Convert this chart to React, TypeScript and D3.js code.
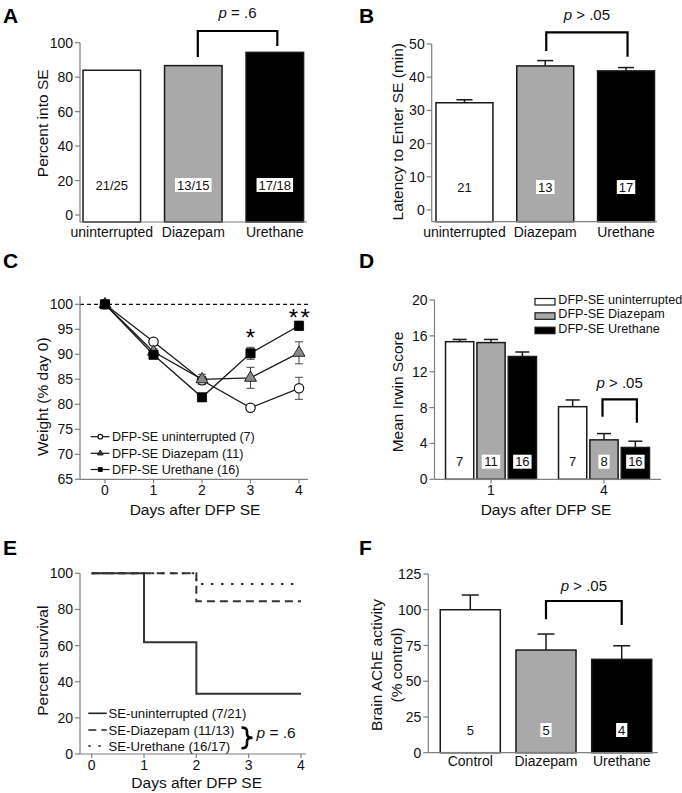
import React from 'react';
import * as d3 from 'd3';

const FONT = '"Liberation Sans", Arial, Helvetica, sans-serif';
const AXIS = '#7f7f7f';
const GRAY = '#a9a9a9';
const OUTLINE = '#1a1a1a';
const FILLS = ['#ffffff', GRAY, '#000000'];

// ---------- Panel A ----------
const treatmentGroups = ['uninterrupted', 'Diazepam', 'Urethane'];
const percentIntoSE = [84, 86.7, 94.4];
const percentIntoSECounts = ['21/25', '13/15', '17/18'];
const percentTicks = [0, 20, 40, 60, 80, 100];

// ---------- Panel B ----------
const latencyMeans = [32.3, 43.4, 41.9];
const latencySEM = [0.9, 1.6, 1.0];
const latencyCounts = ['21', '13', '17'];
const latencyTicks = [0, 10, 20, 30, 40, 50];

// ---------- Panel C ----------
const weightDays = [0, 1, 2, 3, 4];
const weightUninterrupted = [100, 92.5, 84.8, 79.3, 83.2];
const weightUninterruptedSEM = [0, 0.5, 0.7, 0.4, 2.2];
const weightDiazepam = [100, 90.5, 85.0, 85.3, 90.3];
const weightDiazepamSEM = [0, 0.6, 1.0, 2.1, 2.2];
const weightUrethane = [100, 89.9, 81.4, 90.2, 95.7];
const weightUrethaneSEM = [0, 0.6, 0.7, 1.2, 0.9];
const weightLegend = ['DFP-SE uninterrupted (7)', 'DFP-SE Diazepam (11)', 'DFP-SE Urethane (16)'];
const weightTicks = [65, 70, 75, 80, 85, 90, 95, 100];

// ---------- Panel D ----------
const irwinDays = ['1', '4'];
const irwinSeries = ['DFP-SE uninterrupted', 'DFP-SE Diazepam', 'DFP-SE Urethane'];
const irwinUninterrupted = [15.35, 8.1];
const irwinUninterruptedSEM = [0.25, 0.75];
const irwinDiazepam = [15.25, 4.4];
const irwinDiazepamSEM = [0.35, 0.7];
const irwinUrethane = [13.7, 3.55];
const irwinUrethaneSEM = [0.5, 0.7];
const irwinCountsUninterrupted = ['7', '7'];
const irwinCountsDiazepam = ['11', '8'];
const irwinCountsUrethane = ['16', '16'];
const irwinTicks = [0, 4, 8, 12, 16, 20];

// ---------- Panel E ----------
const survivalDays = [0, 1, 2, 3, 4];
const survivalUninterrupted = [100, 61.9, 33.3, 33.3, 33.3];
const survivalDiazepam = [100, 100, 84.6, 84.6, 84.6];
const survivalUrethane = [100, 100, 94.1, 94.1, 94.1];
const survivalLegend = ['SE-uninterrupted (7/21)', 'SE-Diazepam (11/13)', 'SE-Urethane (16/17)'];
const survivalTicks = [0, 20, 40, 60, 80, 100];

// ---------- Panel F ----------
const acheGroups = ['Control', 'Diazepam', 'Urethane'];
const acheMeans = [100, 71.8, 65.3];
const acheSEM = [10.3, 11.2, 9.5];
const acheCounts = ['5', '5', '4'];
const acheTicks = [0, 25, 50, 75, 100, 125];

function textWidth(s: string, size: number) {
  const w: Record<string, number> = { '/': 0.278, ' ': 0.278 };
  let t = 0;
  for (const c of s) t += w[c] ?? 0.556;
  return t * size;
}

function CountLabel({ x, y, text, boxed }: { x: number; y: number; text: string; boxed: boolean }) {
  const fs = 13;
  const w = textWidth(text, fs) + 4;
  const h = 14;
  return (
    <g>
      {boxed && <rect x={x - w / 2} y={y - h / 2} width={w} height={h} fill="#fff" />}
      <text x={x} y={y} dy="0.36em" textAnchor="middle" fontSize={fs} fill="#111">
        {text}
      </text>
    </g>
  );
}

function YAxis({ scale, ticks, x, y1, y2 }: any) {
  return (
    <g>
      <line x1={x} x2={x} y1={y1} y2={y2} stroke={AXIS} strokeWidth={1.2} />
      {ticks.map((t: number) => (
        <g key={t}>
          <line x1={x - 5} x2={x} y1={scale(t)} y2={scale(t)} stroke={AXIS} strokeWidth={1.2} />
          <text x={x - 7} y={scale(t)} dy="0.36em" textAnchor="end" fontSize={14} fill="#111">
            {t}
          </text>
        </g>
      ))}
    </g>
  );
}

function YLabel({ x, y, text, size = 15.5 }: any) {
  return (
    <text
      transform={`translate(${x},${y}) rotate(-90)`}
      textAnchor="middle"
      dominantBaseline="central"
      fontSize={size}
      fill="#111"
    >
      {text}
    </text>
  );
}

function Bracket({ x1, x2, top, b1, b2, labelY, sign }: any) {
  return (
    <g>
      <path d={`M${x1},${b1}V${top}H${x2}V${b2}`} fill="none" stroke="#000" strokeWidth={2.2} />
      <text x={(x1 + x2) / 2} y={labelY} textAnchor="middle" fontSize={15} fill="#111">
        <tspan fontStyle="italic">p</tspan>
        {` ${sign}`}
      </text>
    </g>
  );
}

function PanelLabel({ x, y, t }: any) {
  return (
    <text x={x} y={y} fontSize={21} fontWeight="bold" fill="#000">
      {t}
    </text>
  );
}

function BarPanel(p: any) {
  const x = d3
    .scaleBand()
    .domain(p.categories)
    .range(p.xRange)
    .paddingInner(p.pi)
    .paddingOuter(p.po);
  const y = d3.scaleLinear().domain(p.yDomain).range(p.yRange);
  const bw = x.bandwidth();
  const cx = (c: string) => (x(c) as number) + bw / 2;
  return (
    <g>
      {p.categories.map((c: string, i: number) => {
        const v = p.values[i];
        return (
          <g key={c}>
            {p.errors && (
              <g stroke={OUTLINE} strokeWidth={1.5}>
                <line x1={cx(c)} x2={cx(c)} y1={y(v)} y2={y(v + p.errors[i])} />
                <line x1={cx(c) - p.cap / 2} x2={cx(c) + p.cap / 2} y1={y(v + p.errors[i])} y2={y(v + p.errors[i])} />
              </g>
            )}
            <rect
              x={x(c)}
              y={y(v)}
              width={bw}
              height={p.axisY - y(v)}
              fill={FILLS[i]}
              stroke={OUTLINE}
              strokeWidth={1.5}
            />
            <CountLabel x={cx(c)} y={p.countY} text={p.counts[i]} boxed={i > 0} />
            <text x={cx(c)} y={p.tickBaseline} textAnchor="middle" fontSize={14} fill="#111">
              {c}
            </text>
          </g>
        );
      })}
      <YAxis scale={y} ticks={p.ticks} x={p.xRange[0]} y1={y(p.yDomain[1])} y2={p.axisY} />
      <line x1={p.xRange[0]} x2={p.axisEnd} y1={p.axisY} y2={p.axisY} stroke={AXIS} strokeWidth={1.2} />
      <Bracket
        x1={cx(p.categories[1]) + p.bo[0]}
        x2={cx(p.categories[2]) + p.bo[1]}
        top={p.bTop}
        b1={p.b1}
        b2={p.b2}
        sign={p.sign}
        labelY={p.pY}
      />
    </g>
  );
}

function PanelC() {
  const x = d3.scaleLinear().domain([0, 4]).range([105, 299]);
  const y = d3.scaleLinear().domain([65, 100]).range([479.3, 304.3]);
  const series = [
    { v: weightUninterrupted, e: weightUninterruptedSEM, type: 'circle' },
    { v: weightDiazepam, e: weightDiazepamSEM, type: 'triangle' },
    { v: weightUrethane, e: weightUrethaneSEM, type: 'square' },
  ];
  const line = d3
    .line<number>()
    .x((_, i) => x(weightDays[i]))
    .y((d) => y(d));
  const marker = (type: string, mx: number, my: number, small = false, key?: any) => {
    if (type === 'circle')
      return <circle key={key} cx={mx} cy={my} r={small ? 2.3 : 4.7} fill="#fff" stroke="#111" strokeWidth={1.2} />;
    if (type === 'triangle')
      return (
        <path
          key={key}
          d={d3.symbol(d3.symbolTriangle, small ? 14 : 62)() as string}
          transform={`translate(${mx},${my})`}
          fill={small ? '#333' : '#8a8a8a'}
          stroke="#222"
          strokeWidth={1}
        />
      );
    return (
      <path
        key={key}
        d={d3.symbol(d3.symbolSquare, small ? 16 : 84)() as string}
        transform={`translate(${mx},${my})`}
        fill="#000"
        stroke="#000"
        strokeWidth={0.8}
      />
    );
  };
  const legendY = [436.7, 453.3, 469.5];
  return (
    <g>
      <line x1={80} x2={308} y1={y(100)} y2={y(100)} stroke="#111" strokeWidth={1.2} strokeDasharray="4,3" />
      {series.map((s, si) => (
        <path key={si} d={line(s.v) as string} fill="none" stroke="#1a1a1a" strokeWidth={1.3} />
      ))}
      {series.map((s, si) =>
        s.v.map((v, i) =>
          s.e[i] > 0 ? (
            <g key={`${si}-${i}`} stroke="#444" strokeWidth={1}>
              <line x1={x(weightDays[i])} x2={x(weightDays[i])} y1={y(v - s.e[i])} y2={y(v + s.e[i])} />
              <line x1={x(weightDays[i]) - 4} x2={x(weightDays[i]) + 4} y1={y(v + s.e[i])} y2={y(v + s.e[i])} />
              <line x1={x(weightDays[i]) - 4} x2={x(weightDays[i]) + 4} y1={y(v - s.e[i])} y2={y(v - s.e[i])} />
            </g>
          ) : null
        )
      )}
      {series.map((s, si) => s.v.map((v, i) => marker(s.type, x(weightDays[i]), y(v), false, `${si}-${i}`)))}
      <YAxis scale={y} ticks={weightTicks} x={80} y1={296} y2={479.3} />
      <line x1={80} x2={308} y1={479.3} y2={479.3} stroke={AXIS} strokeWidth={1.2} />
      {weightDays.map((d) => (
        <g key={d}>
          <line x1={x(d)} x2={x(d)} y1={479.3} y2={483.5} stroke={AXIS} strokeWidth={1.2} />
          <text x={x(d)} y={495} textAnchor="middle" fontSize={14} fill="#111">
            {d}
          </text>
        </g>
      ))}
      <text x={195} y={515} textAnchor="middle" fontSize={15.5} fill="#111">
        Days after DFP SE
      </text>
      <YLabel x={42.5} y={396.7} text="Weight (% day 0)" />
      <text x={x(3)} y={346} textAnchor="middle" fontSize={24} fill="#000">
        *
      </text>
      <text x={x(4) + 1.5} y={326} textAnchor="middle" fontSize={24} letterSpacing={2.5} fill="#000">
        **
      </text>
      {weightLegend.map((t, i) => (
        <g key={t}>
          <line x1={90.7} x2={109.5} y1={legendY[i]} y2={legendY[i]} stroke="#111" strokeWidth={1.2} />
          {marker(series[i].type, 100.3, legendY[i], true)}
          <text x={112} y={legendY[i]} dy="0.36em" fontSize={12.6} fill="#111">
            {t}
          </text>
        </g>
      ))}
    </g>
  );
}

function PanelD() {
  const xg = d3.scaleBand().domain(irwinDays).range([434, 661]).paddingInner(0.195).paddingOuter(0.102);
  const xs = d3.scaleBand().domain(irwinSeries).range([0, xg.bandwidth()]).paddingInner(0.1);
  const y = d3.scaleLinear().domain([0, 20]).range([479.3, 300]);
  const vals = [irwinUninterrupted, irwinDiazepam, irwinUrethane];
  const errs = [irwinUninterruptedSEM, irwinDiazepamSEM, irwinUrethaneSEM];
  const counts = [irwinCountsUninterrupted, irwinCountsDiazepam, irwinCountsUrethane];
  const bw = xs.bandwidth();
  const bx = (di: number, si: number) => (xg(irwinDays[di]) as number) + (xs(irwinSeries[si]) as number);
  const legendBase = [304, 318.3, 332.7];
  return (
    <g>
      {irwinDays.map((d, di) =>
        irwinSeries.map((s, si) => {
          const v = vals[si][di];
          const e = errs[si][di];
          const c = bx(di, si) + bw / 2;
          return (
            <g key={`${d}-${s}`}>
              <g stroke={OUTLINE} strokeWidth={1.5}>
                <line x1={c} x2={c} y1={y(v)} y2={y(v + e)} />
                <line x1={c - 7} x2={c + 7} y1={y(v + e)} y2={y(v + e)} />
              </g>
              <rect x={bx(di, si)} y={y(v)} width={bw} height={479.3 - y(v)} fill={FILLS[si]} stroke={OUTLINE} strokeWidth={1.5} />
              <CountLabel x={c} y={461.7} text={counts[si][di]} boxed={si > 0} />
            </g>
          );
        })
      )}
      <YAxis scale={y} ticks={irwinTicks} x={434.5} y1={300} y2={479.3} />
      <line x1={434.5} x2={661} y1={479.3} y2={479.3} stroke={AXIS} strokeWidth={1.2} />
      {irwinDays.map((d) => {
        const c = (xg(d) as number) + xg.bandwidth() / 2;
        return (
          <g key={d}>
            <line x1={c} x2={c} y1={479.3} y2={483.5} stroke={AXIS} strokeWidth={1.2} />
            <text x={c} y={495} textAnchor="middle" fontSize={14} fill="#111">
              {d}
            </text>
          </g>
        );
      })}
      <text x={546} y={515} textAnchor="middle" fontSize={15.5} fill="#111">
        Days after DFP SE
      </text>
      <YLabel x={397.7} y={392} text="Mean Irwin Score" />
      <Bracket
        x1={bx(1, 1) + bw / 2 - 1.5}
        x2={bx(1, 2) + bw / 2 + 1.5}
        top={399.3}
        b1={416.7}
        b2={422.7}
        sign="> .05"
        labelY={388.3}
      />
      {irwinSeries.map((s, i) => (
        <g key={s}>
          <rect x={535} y={legendBase[i] - 5.5} width={20} height={6.5} fill={FILLS[i]} stroke={OUTLINE} strokeWidth={1.2} />
          <text x={558.3} y={legendBase[i]} fontSize={12.6} fill="#111">
            {s}
          </text>
        </g>
      ))}
    </g>
  );
}

function PanelE() {
  const x = d3.scaleLinear().domain([0, 4]).range([91.7, 301]);
  const y = d3.scaleLinear().domain([0, 100]).range([754, 573.3]);
  const line = d3
    .line<number>()
    .x((_, i) => x(survivalDays[i]))
    .y((d) => y(d))
    .curve(d3.curveStepAfter);
  const styles = [
    { d: survivalUninterrupted, dash: undefined },
    { d: survivalDiazepam, dash: '8,5' },
    { d: survivalUrethane, dash: '2.5,7.5' },
  ];
  const legendY = [713.3, 730, 746];
  return (
    <g>
      {styles.map((s, i) => (
        <path key={i} d={line(s.d) as string} fill="none" stroke="#333" strokeWidth={2} strokeDasharray={s.dash} />
      ))}
      <YAxis scale={y} ticks={survivalTicks} x={80} y1={573.3} y2={754} />
      <line x1={80} x2={306} y1={754} y2={754} stroke={AXIS} strokeWidth={1.2} />
      {survivalDays.map((d) => (
        <g key={d}>
          <line x1={x(d)} x2={x(d)} y1={754} y2={758} stroke={AXIS} strokeWidth={1.2} />
          <text x={x(d)} y={770} textAnchor="middle" fontSize={14} fill="#111">
            {d}
          </text>
        </g>
      ))}
      <text x={196.7} y={788} textAnchor="middle" fontSize={15.5} fill="#111">
        Days after DFP SE
      </text>
      <YLabel x={42.5} y={660.7} text="Percent survival" />
      {survivalLegend.map((t, i) => (
        <g key={t}>
          <line x1={88.3} x2={106.7} y1={legendY[i]} y2={legendY[i]} stroke="#222" strokeWidth={1.6} strokeDasharray={styles[i].dash} />
          <text x={108.5} y={legendY[i]} dy="0.36em" fontSize={13.2} fill="#111">
            {t}
          </text>
        </g>
      ))}
      <path
        d="M241.5,727.5 Q247,727.5 247,731.5 L247,734 Q247,737.8 252.5,737.8 Q247,737.8 247,741.5 L247,744 Q247,748.3 241.5,748.3"
        fill="none"
        stroke="#000"
        strokeWidth={2.6}
      />
      <text x={256.5} y={737.5} fontSize={15.5} fill="#111">
        <tspan fontStyle="italic">p</tspan>
        {' = .6'}
      </text>
    </g>
  );
}

export default function App() {
  return (
    <svg
      width={682}
      height={793}
      viewBox="0 0 682 793"
      style={{ position: 'absolute', left: 0, top: 0, background: '#fff', fontFamily: FONT }}
    >
      <rect width={682} height={793} fill="#fff" />
      {/* A */}
      <PanelLabel x={3} y={23} t="A" />
      <BarPanel
        categories={treatmentGroups}
        values={percentIntoSE}
        counts={percentIntoSECounts}
        ticks={percentTicks}
        yDomain={[0, 100]}
        yRange={[215, 42.7]}
        xRange={[80, 306.6]}
        pi={0.294}
        po={0.037}
        axisY={222}
        axisEnd={307}
        countY={185}
        tickBaseline={237}
        bo={[4.5, 2.5]}
        bTop={31}
        b1={57}
        b2={46}
        sign="= .6"
        pY={18}
      />
      <YLabel x={42.5} y={123.3} text="Percent into SE" />
      {/* B */}
      <PanelLabel x={359} y={23} t="B" />
      <BarPanel
        categories={treatmentGroups}
        values={latencyMeans}
        errors={latencySEM}
        cap={16}
        counts={latencyCounts}
        ticks={latencyTicks}
        yDomain={[0, 50]}
        yRange={[210, 44]}
        xRange={[431.7, 658.8]}
        pi={0.295}
        po={0.053}
        axisY={221.7}
        axisEnd={657}
        countY={187}
        tickBaseline={237}
        bo={[1, 1.5]}
        bTop={32.3}
        b1={51}
        b2={56.7}
        sign="> .05"
        pY={20}
      />
      <YLabel x={397.7} y={131.7} text="Latency to Enter SE (min)" />
      {/* C */}
      <PanelLabel x={3} y={268} t="C" />
      <PanelC />
      {/* D */}
      <PanelLabel x={359} y={268} t="D" />
      <PanelD />
      {/* E */}
      <PanelLabel x={3} y={555} t="E" />
      <PanelE />
      {/* F */}
      <PanelLabel x={359} y={555} t="F" />
      <BarPanel
        categories={acheGroups}
        values={acheMeans}
        errors={acheSEM}
        cap={17}
        counts={acheCounts}
        ticks={acheTicks}
        yDomain={[0, 125]}
        yRange={[752.7, 574]}
        xRange={[428.3, 663.7]}
        pi={0.207}
        po={0.158}
        axisY={752.7}
        axisEnd={657.7}
        countY={730}
        tickBaseline={765.7}
        bo={[0, 0]}
        bTop={601}
        b1={619.3}
        b2={625}
        sign="> .05"
        pY={590.7}
      />
      <YLabel x={376} y={665} text="Brain AChE activity" />
      <YLabel x={396} y={665} text="(% control)" />
    </svg>
  );
}
